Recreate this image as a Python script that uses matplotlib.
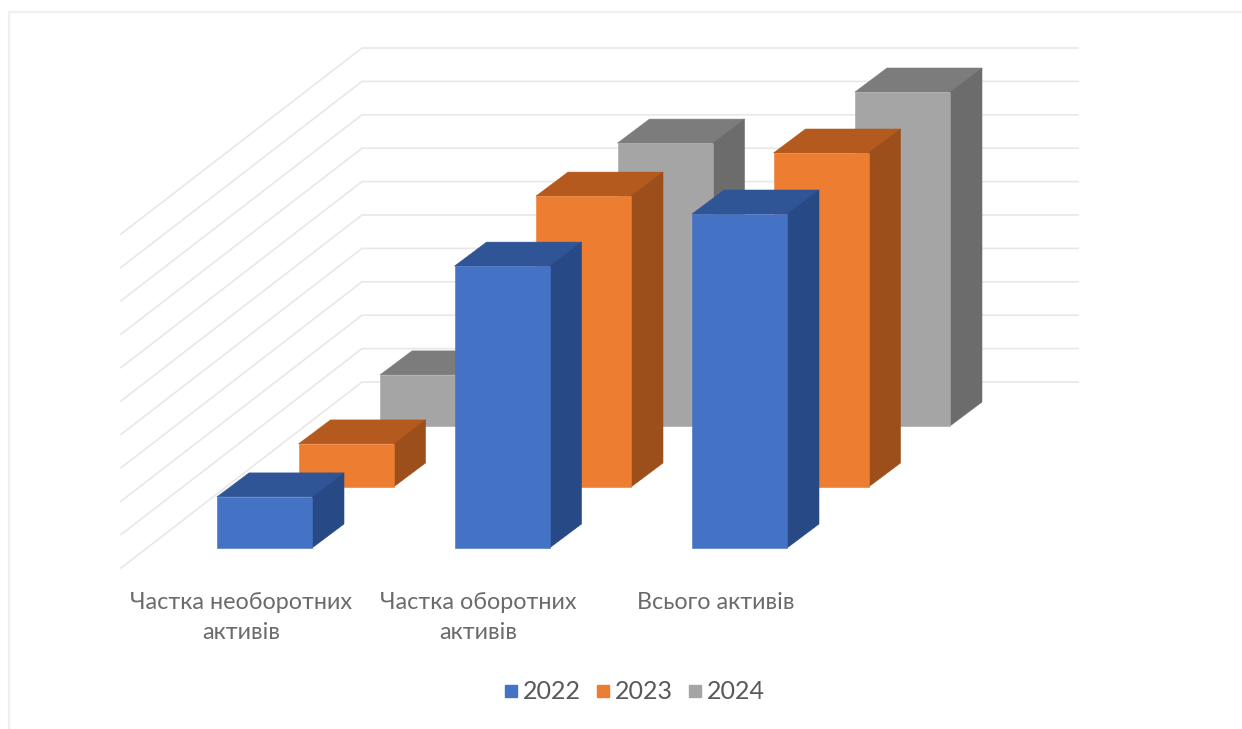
import matplotlib.pyplot as plt
from matplotlib.lines import Line2D
from matplotlib.patches import Polygon

categories = ['Частка необоротних\nактивів', 'Частка оборотних\nактивів', 'Всього активів']
years = ['2022', '2023', '2024']
values_2022 = [15.3, 84.4, 100]
values_2023 = [12.9, 87.1, 100]
values_2024 = [15.3, 84.7, 100]
grid_values = [0, 10, 20, 30, 40, 50, 60, 70, 80, 90, 100]

front_colors = ['#4472c4', '#ed7d31', '#a5a5a5']
top_colors = ['#2f5597', '#b55a1e', '#7c7c7c']
side_colors = ['#274a86', '#9c4f1a', '#6c6c6c']

# oblique projection of the excel 3d chart, in image pixels
FRONT_X, FRONT_Y = 217, 548
CAT_STEP = 237.5
SERIES_DX, SERIES_DY = 81.5, -61
BAR_W = 95
DEPTH_DX, DEPTH_DY = 32, -24
PX_PER_UNIT = 3.34


def draw_bar(ax, cat, series, value):
    x = FRONT_X + cat * CAT_STEP + series * SERIES_DX
    base = FRONT_Y + series * SERIES_DY
    top = base - value * PX_PER_UNIT
    right = x + BAR_W
    # top and side first, the front goes over them so no seam shows
    ax.add_patch(Polygon([(x, top), (right, top), (right + DEPTH_DX, top + DEPTH_DY),
                          (x + DEPTH_DX, top + DEPTH_DY)],
                         fc=top_colors[series], ec=top_colors[series], lw=0.4))
    ax.add_patch(Polygon([(right, base), (right + DEPTH_DX, base + DEPTH_DY),
                          (right + DEPTH_DX, top + DEPTH_DY), (right, top)],
                         fc=side_colors[series], ec=side_colors[series], lw=0.4))
    ax.add_patch(Polygon([(x, base), (right, base), (right, top), (x, top)],
                         fc=front_colors[series], ec=front_colors[series], lw=0.4))


plt.rcParams['font.family'] = ['Lato', 'Roboto', 'DejaVu Sans']

fig = plt.figure(figsize=(12.42, 7.29), dpi=100)
ax = fig.add_axes([0, 0, 1, 1])
ax.set_xlim(0, 1242)
ax.set_ylim(729, 0)
ax.axis('off')

# outer frame of the screenshot
ax.plot([9, 9, 1242], [729, 12, 12], color='#f0f0f0', lw=1.6, zorder=1)

# walls
for v in grid_values:
    y = 382 - v * PX_PER_UNIT
    ax.plot([121, 362, 1078], [y + 186, y, y], color='#e8e8e8', lw=1.2, zorder=1)

all_values = [values_2022, values_2023, values_2024]
for s in [2, 1, 0]:
    for c in range(len(categories)):
        draw_bar(ax, c, s, all_values[s][c])

for c, label in enumerate(categories):
    ax.text(FRONT_X + 24 + c * CAT_STEP, 592, label, ha='center', va='top',
            fontsize=16.8, color='#6b6b6b', linespacing=1.55)

handles = [Line2D([], [], ls='none', marker='s', ms=8.6, color=col) for col in front_colors]
ax.legend(handles, years, ncol=3, loc='center', bbox_to_anchor=(0.5105, 0.0508),
          frameon=False, fontsize=18, labelcolor='#595959', handlelength=0.6,
          handletextpad=0.18, columnspacing=0.58, borderpad=0, borderaxespad=0)

fig.savefig('out.png', dpi=100)
